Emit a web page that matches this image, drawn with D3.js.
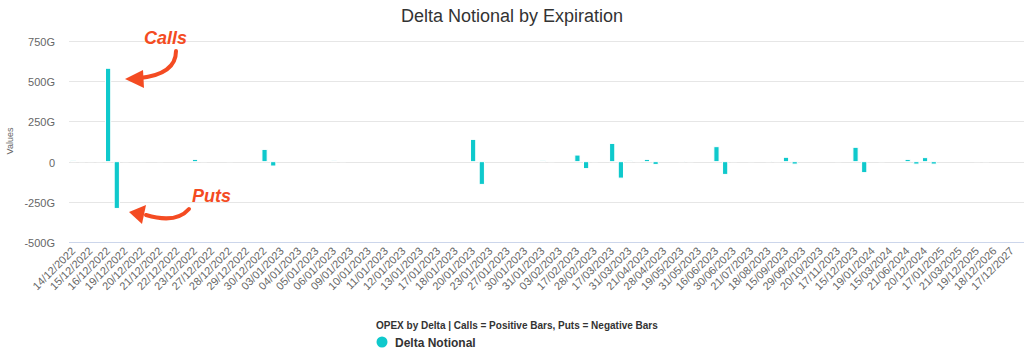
<!DOCTYPE html>
<html>
<head>
<script src="https://d3js.org/d3.v7.min.js" charset="utf-8"></script>
<style>
    body{
        margin:0;
        background:#fff;
        font-family:"Liberation Sans", Arial, sans-serif;
    }
</style>
</head>
<body>
<div id="chart"></div>
<script>

    // expirations, calls (positive) and puts (negative) in G
    var dates = ["14/12/2022","15/12/2022","16/12/2022","19/12/2022","20/12/2022","21/12/2022","22/12/2022","23/12/2022",
        "27/12/2022","28/12/2022","29/12/2022","30/12/2022","03/01/2023","04/01/2023","05/01/2023","06/01/2023",
        "09/01/2023","10/01/2023","11/01/2023","12/01/2023","13/01/2023","17/01/2023","18/01/2023","20/01/2023",
        "23/01/2023","27/01/2023","30/01/2023","31/01/2023","03/02/2023","17/02/2023","28/02/2023","17/03/2023",
        "31/03/2023","21/04/2023","28/04/2023","19/05/2023","31/05/2023","16/06/2023","30/06/2023","21/07/2023",
        "18/08/2023","15/09/2023","29/09/2023","20/10/2023","17/11/2023","15/12/2023","19/01/2024","15/03/2024",
        "21/06/2024","20/12/2024","17/01/2025","21/03/2025","19/12/2025","18/12/2026","17/12/2027"]

    var calls = [6,0.3,579,0.3,0.3,0.3,null,14,
        null,0.3,null,76,null,null,null,5,
        null,null,null,null,null,null,null,138,
        null,null,null,6,null,41,0.3,113,
        5,14,null,4,null,93,0.3,0.3,
        4,27,null,null,0.3,89,null,null,
        14,25,null,null,0.3,null,null]

    var puts = [-0.3,-0.3,-290,null,null,null,null,-0.3,
        null,null,null,-27,null,null,null,-0.3,
        null,null,null,null,null,null,null,-141,
        null,null,null,-0.3,null,-43,null,-102,
        -0.3,-17,null,-0.3,null,-79,null,null,
        -0.3,-15,null,null,null,-68,-0.3,null,
        -15,-15,null,null,-0.3,null,null]

    var yTicks = [-500,-250,0,250,500,750]

    var barColor = "#0fc9cc"
    var noteColor = "#f44b22"

    var svg = d3.select("#chart").append("svg")
        .attr("width",1024)
        .attr("height",354)

    // one slot per call and per put
    var points = []
    dates.forEach(function(d,i){
        points.push({key:d+"|c", date:d, value:calls[i]})
        points.push({key:d+"|p", date:d, value:puts[i]})
    })

    var xScale = d3.scaleBand().domain(points.map(function(p){return p.key})).range([69,1025])
    var yScale = d3.scaleLinear().domain([-500,750]).range([242.3,40.7])

    svg.append("text").text("Delta Notional by Expiration")
        .attr("x",512).attr("y",22)
        .attr("text-anchor","middle")
        .attr("font-size",18)
        .attr("fill","#333")

    // grid
    svg.selectAll("line.grid").data(yTicks).enter()
        .append("line").attr("class","grid")
        .attr("x1",69).attr("x2",1024)
        .attr("y1",function(d){return Math.round(yScale(d))+0.5})
        .attr("y2",function(d){return Math.round(yScale(d))+0.5})
        .attr("stroke",function(d){return d==-500 ? "#ccd6eb" : "#e6e6e6"})
        .attr("stroke-width",1)

    var yAxis = d3.axisLeft(yScale).tickValues(yTicks).tickSize(0).tickPadding(0)
        .tickFormat(function(d){return d==0 ? "0" : d+"G"})
    var yg = svg.append("g").attr("transform","translate(55,0)").call(yAxis)
    yg.select(".domain").remove()
    yg.selectAll("text").attr("font-family","Liberation Sans, Arial, sans-serif")
        .attr("font-size",11).attr("fill","#666").attr("dy","0.4em")

    svg.append("text").text("Values")
        .attr("transform","translate(13,141) rotate(-90)")
        .attr("text-anchor","middle")
        .attr("font-size",9)
        .attr("fill","#666")

    var xAxis = d3.axisBottom(xScale)
        .tickValues(points.filter(function(p){return p.key.slice(-1)=="c"}).map(function(p){return p.key}))
        .tickSize(0).tickPadding(0)
        .tickFormat(function(d){return d.split("|")[0]})
    var xg = svg.append("g").attr("transform","translate(0,249)").call(xAxis)
    xg.select(".domain").remove()
    xg.selectAll("text")
        .attr("font-family","Liberation Sans, Arial, sans-serif")
        .attr("font-size",11).attr("fill","#666")
        .attr("text-anchor","end")
        .attr("dy","0.35em").attr("y",0).attr("x",0)
        .attr("transform","rotate(-45)")

    var bw = xScale.bandwidth()*0.6
    svg.selectAll("rect.bar").data(points.filter(function(p){return p.value!=null})).enter()
        .append("rect").attr("class","bar")
        .attr("x",function(p){return xScale(p.key)+xScale.bandwidth()/2-bw/2})
        .attr("width",bw)
        .attr("y",function(p){return yScale(Math.max(p.value,0))})
        .attr("height",function(p){return Math.abs(yScale(p.value)-yScale(0))})
        .attr("fill",barColor)
        .attr("stroke","#fff")
        .attr("stroke-width",1)

    // legend
    svg.append("text").text("OPEX by Delta | Calls = Positive Bars, Puts = Negative Bars")
        .attr("x",376).attr("y",329)
        .attr("font-size",10).attr("font-weight","bold").attr("fill","#333")
    svg.append("circle").attr("cx",382).attr("cy",342).attr("r",5.5).attr("fill",barColor)
    svg.append("text").text("Delta Notional")
        .attr("x",395).attr("y",346.5)
        .attr("font-size",12).attr("font-weight","bold").attr("fill","#333")

    // hand-drawn notes
    var notes = svg.append("g").attr("fill",noteColor)
    notes.append("text").text("Calls").attr("x",144).attr("y",44)
        .attr("font-size",18).attr("font-weight","bold").attr("font-style","italic")
    notes.append("text").text("Puts").attr("x",192).attr("y",202)
        .attr("font-size",18).attr("font-weight","bold").attr("font-style","italic")
    notes.append("path").attr("d","M176,51 Q176,74 140,78").attr("fill","none")
        .attr("stroke",noteColor).attr("stroke-width",4).attr("stroke-linecap","round")
    notes.append("path").attr("d","M125,79 L143,70 L144,88 Z")
    notes.append("path").attr("d","M189,209 Q176,224 146,215").attr("fill","none")
        .attr("stroke",noteColor).attr("stroke-width",4).attr("stroke-linecap","round")
    notes.append("path").attr("d","M129,212 L146,205 L142,224 Z")

</script>
</body>
</html>
